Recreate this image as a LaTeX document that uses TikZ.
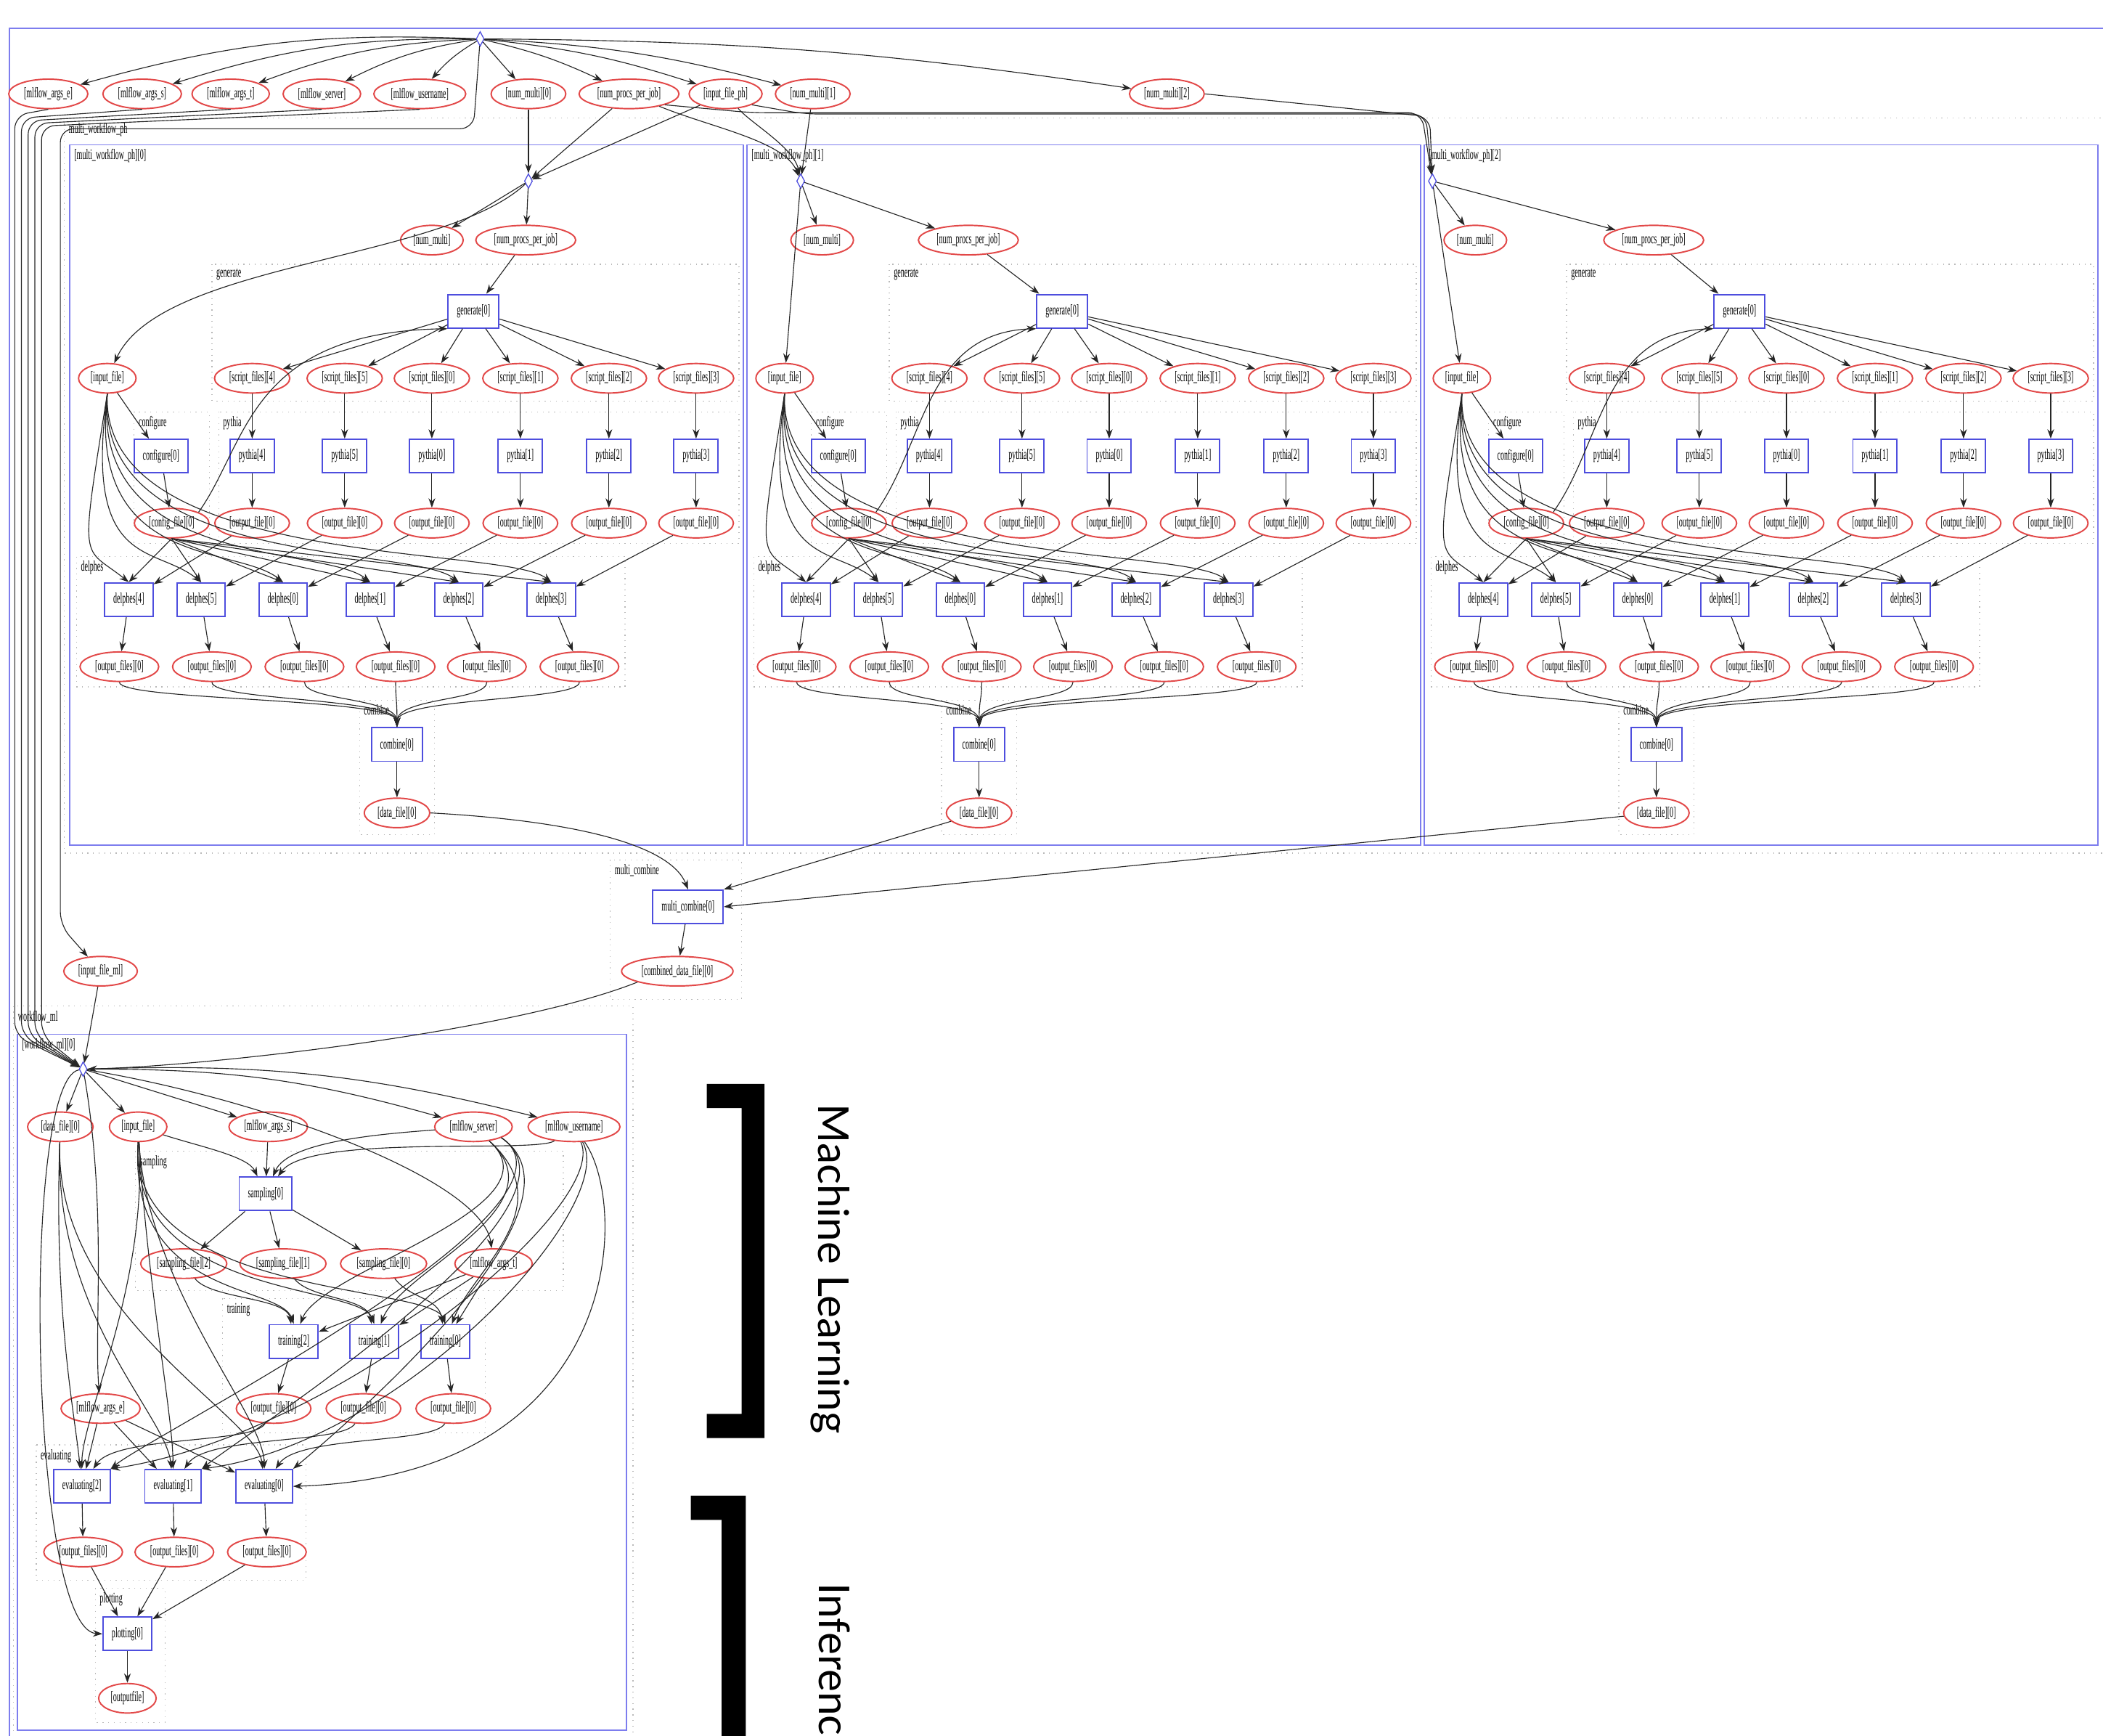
\documentclass[tikz,border=0pt]{standalone}
\usepackage{fontspec}
\setmainfont{Liberation Serif}
\newfontfamily\graphfamily{Liberation Serif}[FakeStretch=0.5]
\newfontfamily\sidefamily{Lato}
\usetikzlibrary{shapes.geometric, arrows.meta, calc}

\definecolor{fileline}{RGB}{226,72,72}
\definecolor{taskline}{RGB}{78,78,222}
\definecolor{groupline}{RGB}{125,125,238}
\definecolor{subline}{RGB}{185,185,185}

\newcommand{\gfont}{\graphfamily\fontsize{6.2}{6.6}\selectfont}

\tikzset{
  fileobj/.style={ellipse, draw=fileline, line width=0.6pt, fill=white, inner xsep=0.55mm, inner ysep=0.5pt, minimum height=4.4mm, font=\gfont},
  task/.style={rectangle, draw=taskline, line width=0.6pt, fill=white, inner xsep=1.3mm, minimum height=5mm, font=\gfont},
  hub/.style={diamond, draw=taskline, line width=0.4pt, inner sep=0pt, minimum width=1.2mm, minimum height=2.2mm},
  subgraph/.style={draw=subline, dotted, line width=0.4pt},
  wfgraph/.style={draw=groupline, line width=0.6pt},
  grouplabel/.style={anchor=north west, inner sep=0.6pt, font=\gfont},
  flow/.style={draw=black!85, line width=0.35pt, -{Stealth[length=1.4mm, width=1mm]}},
  sidelabel/.style={font=\sidefamily\fontsize{18}{20}\selectfont, inner sep=0pt},
}

\begin{document}
\begin{tikzpicture}[x=0.2mm, y=-0.2mm]
  \useasboundingbox (0,0) rectangle (1568,1294);

  % graph frame and clusters
  \draw[wfgraph] (7,21) rectangle (1610,1330);
  \draw[subgraph] (48,88) rectangle (1575,636);
  \node[grouplabel] (mwlabel) at (50,90) {multi\_workflow\_ph};
  \draw[subgraph] (455,641) rectangle (553,745);
  \node[grouplabel] (mclabel) at (457,643) {multi\_combine};
  \draw[subgraph] (10,750) rectangle (472,1300);
  \node[grouplabel] (wflabel) at (12,752) {workflow\_ml};
  \draw[wfgraph] (13,771) rectangle (467,1290);
  \node[grouplabel] (wf-label) at (15,773) {[workflow\_ml][0]};
  \draw[subgraph] (101,858) rectangle (420,962);
  \node[grouplabel] (samplabel) at (103,860) {sampling};
  \draw[subgraph] (166,968) rectangle (362,1068);
  \node[grouplabel] (trainlabel) at (168,970) {training};
  \draw[subgraph] (27,1077) rectangle (228,1178);
  \node[grouplabel] (evallabel) at (29,1079) {evaluating};
  \draw[subgraph] (71,1184) rectangle (123,1284);
  \node[grouplabel] (plotlabel) at (73,1186) {plotting};

  % top inputs
  \node[hub] (src) at (358,29) {};
  \node[fileobj] (argse) at (36,70) {[mlflow\_args\_e]};
  \node[fileobj] (argss) at (106,70) {[mlflow\_args\_s]};
  \node[fileobj] (argst) at (172,70) {[mlflow\_args\_t]};
  \node[fileobj] (server) at (240,70) {[mlflow\_server]};
  \node[fileobj] (username) at (313,70) {[mlflow\_username]};
  \node[fileobj] (nummulti0) at (394,70) {[num\_multi][0]};
  \node[fileobj] (procs) at (469,70) {[num\_procs\_per\_job]};
  \node[fileobj] (inputph) at (541,70) {[input\_file\_ph]};
  \node[fileobj] (nummulti1) at (606,70) {[num\_multi][1]};
  \node[fileobj] (nummulti2) at (870,70) {[num\_multi][2]};
  \node[fileobj] (inputml) at (75,724) {[input\_file\_ml]};

  % the three physics workflows
  \foreach \col/\dx/\ex/\mx/\px/\gx/\kx in {0/0/394/322/392/353/296,1/505/597/613/722/792/730,2/1010/1068/1100/1233/1297/1235}{
    \draw[wfgraph] ({52+\dx},108) rectangle ({554+\dx},630);
    \node[grouplabel] (c\col-label) at ({54+\dx},110) {[multi\_workflow\_ph][\col]};
    \draw[subgraph] ({158+\dx},197) rectangle ({551+\dx},299);
    \node[grouplabel] (c\col-genlabel) at ({160+\dx},199) {generate};
    \draw[subgraph] ({100+\dx},307) rectangle ({156+\dx},405);
    \node[grouplabel] (c\col-conflabel) at ({102+\dx},309) {configure};
    \draw[subgraph] ({163+\dx},307) rectangle ({551+\dx},405);
    \node[grouplabel] (c\col-pylabel) at ({165+\dx},309) {pythia};
    \draw[subgraph] ({57+\dx},415) rectangle ({466+\dx},512);
    \node[grouplabel] (c\col-dellabel) at ({59+\dx},417) {delphes};
    \draw[subgraph] ({\kx-28},522) rectangle ({\kx+28},622);
    \node[grouplabel] (c\col-comblabel) at ({\kx-26},524) {combine};

    \node[hub] (c\col-entry) at (\ex,135) {};
    \node[fileobj] (c\col-nummulti) at (\mx,179) {[num\_multi]};
    \node[fileobj] (c\col-procs) at (\px,179) {[num\_procs\_per\_job]};
    \node[task] (c\col-gen) at (\gx,232) {generate[0]};
    \node[fileobj] (c\col-input) at ({80+\dx},282) {[input\_file]};
    \node[task] (c\col-conf) at ({120+\dx},340) {configure[0]};
    \node[fileobj] (c\col-cfg) at ({128+\dx},390) {[config\_file][0]};
    \node[task] (c\col-comb) at (\kx,555) {combine[0]};
    \node[fileobj] (c\col-data) at (\kx,606) {[data\_file][0]};
    \foreach \ix/\x in {4/188,5/257,0/322,1/388,2/454,3/519}{
      \node[fileobj] (c\col-script\ix) at ({\x+\dx},282) {[script\_files][\ix]};
      \node[task] (c\col-pythia\ix) at ({\x+\dx},340) {pythia[\ix]};
      \node[fileobj] (c\col-pyout\ix) at ({\x+\dx},390) {[output\_file][0]};
    }
    \foreach \ix/\x/\ox in {4/96/89,5/150/158,0/211/227,1/276/295,2/342/363,3/411/432}{
      \node[task] (c\col-delphes\ix) at ({\x+\dx},447) {delphes[\ix]};
      \node[fileobj] (c\col-dout\ix) at ({\ox+\dx},497) {[output\_files][0]};
    }

    \draw[flow] (c\col-entry) -- (c\col-nummulti);
    \draw[flow] (c\col-entry) -- (c\col-procs);
    \ifnum\col=0
      \draw[flow] (c0-entry) .. controls (330,195) and (120,195) .. (c0-input);
    \else
      \draw[flow] (c\col-entry) -- (c\col-input);
    \fi
    \draw[flow] (c\col-procs) -- (c\col-gen);
    \draw[flow] (c\col-input) -- (c\col-conf);
    \draw[flow] (c\col-conf) -- (c\col-cfg);
    \draw[flow] (c\col-cfg.north east) .. controls ({185+\dx},330) and ({185+\dx},248) .. (c\col-gen.south west);
    \foreach \ix [count=\k] in {4,5,0,1,2,3}{
      \draw[flow] (c\col-gen) -- (c\col-script\ix);
      \draw[flow] (c\col-script\ix) -- (c\col-pythia\ix);
      \draw[flow] (c\col-pythia\ix) -- (c\col-pyout\ix);
      \draw[flow] (c\col-pyout\ix) -- (c\col-delphes\ix);
      \draw[flow] (c\col-input.south) .. controls ({56+\dx+3*\k},425) and ($(c\col-delphes\ix.north)+(-35,-28)$) .. (c\col-delphes\ix.north);
      \draw[flow] (c\col-cfg.south) -- (c\col-delphes\ix.north);
      \draw[flow] (c\col-delphes\ix) -- (c\col-dout\ix);
      \draw[flow] (c\col-dout\ix.south) .. controls ($(c\col-dout\ix.south)+(0,14)$) and ($(c\col-comb.north)+(0,-22)$) .. (c\col-comb.north);
    }
    \draw[flow] (c\col-comb) -- (c\col-data);
  }

  % multi_combine
  \node[task] (mc) at (513,676) {multi\_combine[0]};
  \node[fileobj] (combined) at (505,724) {[combined\_data\_file][0]};

  % workflow_ml
  \node[hub] (wf-entry) at (62,797) {};
  \node[fileobj] (wf-data) at (45,840) {[data\_file][0]};
  \node[fileobj] (wf-input) at (103,840) {[input\_file]};
  \node[fileobj] (wf-argss) at (200,840) {[mlflow\_args\_s]};
  \node[fileobj] (wf-server) at (353,840) {[mlflow\_server]};
  \node[fileobj] (wf-username) at (428,840) {[mlflow\_username]};
  \node[task] (wf-sampling) at (198,890) {sampling[0]};
  \node[fileobj] (wf-sfile2) at (137,942) {[sampling\_file][2]};
  \node[fileobj] (wf-sfile1) at (211,942) {[sampling\_file][1]};
  \node[fileobj] (wf-sfile0) at (286,942) {[sampling\_file][0]};
  \node[fileobj] (wf-argst) at (368,942) {[mlflow\_args\_t]};
  \node[task] (wf-train2) at (219,1000) {training[2]};
  \node[task] (wf-train1) at (279,1000) {training[1]};
  \node[task] (wf-train0) at (332,1000) {training[0]};
  \node[fileobj] (wf-argse) at (75,1050) {[mlflow\_args\_e]};
  \node[fileobj] (wf-tout2) at (204,1050) {[output\_file][0]};
  \node[fileobj] (wf-tout1) at (271,1050) {[output\_file][0]};
  \node[fileobj] (wf-tout0) at (338,1050) {[output\_file][0]};
  \node[task] (wf-eval2) at (61,1108) {evaluating[2]};
  \node[task] (wf-eval1) at (129,1108) {evaluating[1]};
  \node[task] (wf-eval0) at (197,1108) {evaluating[0]};
  \node[fileobj] (wf-eout2) at (62,1157) {[output\_files][0]};
  \node[fileobj] (wf-eout1) at (130,1157) {[output\_files][0]};
  \node[fileobj] (wf-eout0) at (199,1157) {[output\_files][0]};
  \node[task] (wf-plot) at (95,1218) {plotting[0]};
  \node[fileobj] (wf-outputfile) at (95,1266) {[outputfile]};

  % edges from the top
  \foreach \n in {argse,argss,argst,server,username}
    \draw[flow] (src) to[bend right=9] (\n);
  \draw[flow] (src) -- (nummulti0);
  \foreach \n in {procs,inputph,nummulti1}
    \draw[flow] (src) to[bend left=6] (\n);
  \draw[flow] (src) to[bend left=4] (nummulti2);
  \draw[flow, rounded corners=2mm] (src) -- (353,96) -- (45,96) -- (45,690) -- (inputml);
  \foreach \n/\x/\y in {argse/11/86,argss/16/88,argst/21/90,server/26/92,username/31/94}
    \draw[flow, rounded corners=2mm] (\n.south) -- (\x,\y) -- (\x,772) -- (wf-entry);
  \draw[flow] (nummulti0) -- (c0-entry);
  \draw[flow] (procs) -- (c0-entry);
  \draw[flow] (inputph) -- (c0-entry);
  \draw[flow] (procs) .. controls (530,95) and (585,105) .. (c1-entry);
  \draw[flow] (inputph) .. controls (560,92) and (592,110) .. (c1-entry);
  \draw[flow] (nummulti1) -- (c1-entry);
  \draw[flow, rounded corners=2mm] (procs.south east) -- (560,84) -- (1060,84) -- (c2-entry);
  \draw[flow, rounded corners=2mm] (inputph.south east) -- (600,85) -- (1063,85) -- (c2-entry);
  \draw[flow, rounded corners=2mm] (nummulti2.east) -- (1066,87) -- (c2-entry);

  % into multi_combine and on to workflow_ml
  \draw[flow] (c0-data.east) .. controls (430,612) and (500,630) .. (mc.north);
  \draw[flow] (c1-data) -- (mc.north east);
  \draw[flow] (c2-data) -- (mc.east);
  \draw[flow] (mc) -- (combined);
  \draw[flow] (combined.south west) .. controls (380,770) and (150,795) .. (wf-entry);
  \draw[flow] (inputml) -- (wf-entry);

  % workflow_ml edges
  \foreach \n in {wf-data,wf-input,wf-argss}
    \draw[flow] (wf-entry) -- (\n);
  \draw[flow] (wf-entry) to[bend left=8] (wf-server);
  \draw[flow] (wf-entry) to[bend left=8] (wf-username);
  \draw[flow] (wf-entry) .. controls (200,820) and (360,880) .. (wf-argst);
  \draw[flow] (wf-entry) .. controls (80,900) and (70,990) .. (wf-argse);
  \draw[flow] (wf-entry) .. controls (15,805) and (22,1215) .. (wf-plot.west);
  \draw[flow] (wf-input) .. controls (150,855) and (185,862) .. (wf-sampling);
  \draw[flow] (wf-argss) -- (wf-sampling);
  \draw[flow] (wf-server) .. controls (290,845) and (215,850) .. (wf-sampling);
  \draw[flow] (wf-username) .. controls (400,860) and (230,845) .. (wf-sampling);
  \foreach \k in {2,1,0}{
    \draw[flow] (wf-sampling) -- (wf-sfile\k);
    \draw[flow] (wf-sfile\k) .. controls ($(wf-sfile\k.south)+(20,15)$) and ($(wf-train\k.north)+(-5,-20)$) .. (wf-train\k);
    \draw[flow] (wf-argst) -- (wf-train\k);
    \draw[flow] (wf-server) .. controls (420,900) and ($(wf-train\k.north)+(20,-40)$) .. (wf-train\k);
    \draw[flow] (wf-input.south) .. controls (95,968) and ($(wf-train\k.north)+(-10,-30)$) .. (wf-train\k.north);
    \draw[flow] (wf-train\k) -- (wf-tout\k);
    \draw[flow] (wf-tout\k) .. controls ($(wf-tout\k.south)+(-15,15)$) and ($(wf-eval\k.north)+(25,-25)$) .. (wf-eval\k);
    \draw[flow] (wf-argse) -- (wf-eval\k);
    \draw[flow] (wf-data) .. controls (40,980) and ($(wf-eval\k.north)+(-5,-40)$) .. (wf-eval\k);
    \draw[flow] (wf-input) .. controls (110,960) and ($(wf-eval\k.north)+(0,-40)$) .. (wf-eval\k);
    \draw[flow] (wf-server.south east) .. controls (450,900) and ($(wf-eval\k.north east)+(30,-25)$) .. (wf-eval\k.north east);
    \draw[flow] (wf-eval\k) -- (wf-eout\k);
    \draw[flow] (wf-eout\k) -- (wf-plot);
  }
  \draw[flow] (wf-username) .. controls (470,900) and (465,1100) .. (wf-eval0.east);
  \draw[flow] (wf-username) .. controls (462,900) and (300,1075) .. (wf-eval1.north east);
  \draw[flow] (wf-username) .. controls (455,900) and (250,1070) .. (wf-eval2.north east);
  \draw[flow] (wf-plot) -- (wf-outputfile);

  % side labels
  \fill (527,808) -- (570,808) -- (570,1072) -- (527,1072) -- (527,1054) -- (553,1054) -- (553,826) -- (527,826) -- cycle;
  \node[sidelabel, rotate=-90] (mllabel) at (619,946) {Machine Learning};
  \fill (515,1115) -- (556,1115) -- (556,1320) -- (538,1320) -- (538,1133) -- (515,1133) -- cycle;
  \node[sidelabel, rotate=-90, anchor=west] (inflabel) at (622,1180) {Inference};
\end{tikzpicture}
\end{document}
